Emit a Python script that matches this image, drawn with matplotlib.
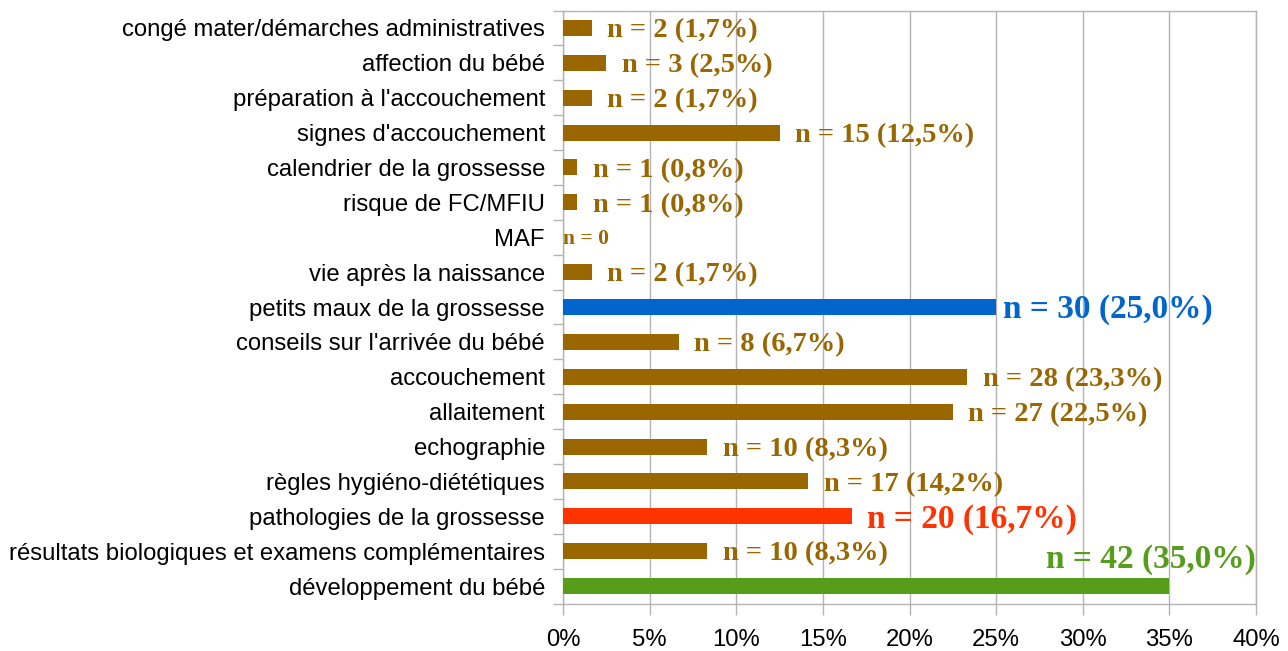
import matplotlib
matplotlib.use("Agg")
import matplotlib.pyplot as plt
from matplotlib.ticker import FixedLocator, PercentFormatter

categories = [
    "congé mater/démarches administratives",
    "affection du bébé",
    "préparation à l'accouchement",
    "signes d'accouchement",
    "calendrier de la grossesse",
    "risque de FC/MFIU",
    "MAF",
    "vie après la naissance",
    "petits maux de la grossesse",
    "conseils sur l'arrivée du bébé",
    "accouchement",
    "allaitement",
    "echographie",
    "règles hygiéno-diététiques",
    "pathologies de la grossesse",
    "résultats biologiques et examens complémentaires",
    "développement du bébé",
]
counts = [2, 3, 2, 15, 1, 1, 0, 2, 30, 8, 28, 27, 10, 17, 20, 10, 42]
percents = [1.7, 2.5, 1.7, 12.5, 0.8, 0.8, 0.0, 1.7, 25.0, 6.7, 23.3, 22.5, 8.3, 14.2, 16.7, 8.3, 35.0]
total = 120
xticks = [0, 5, 10, 15, 20, 25, 30, 35, 40]

BROWN = "#996600"
special_colors = {"petits maux de la grossesse": "#0066CC",
                  "pathologies de la grossesse": "#FF3300",
                  "développement du bébé": "#579D1C"}

fig = plt.figure(figsize=(12.88, 6.51), dpi=100)
ax = fig.add_axes([563/1288, 1 - 603.5/651, (1256-563)/1288, (603.5-10.5)/651])

n = len(categories)
ypos = list(range(n))
values = [c / total * 100 for c in counts]
colors = [special_colors.get(c, BROWN) for c in categories]
ax.barh(ypos, values, height=0.46, color=colors, zorder=3)

ax.set_xlim(0, 40)
ax.set_ylim(n - 0.5, -0.5)
ax.xaxis.set_major_locator(FixedLocator(xticks))
ax.xaxis.set_major_formatter(PercentFormatter(decimals=0))
ax.set_yticks(ypos)
ax.set_yticklabels(categories)
ax.yaxis.set_minor_locator(FixedLocator([i - 0.5 for i in range(n + 1)]))
ax.tick_params(axis="y", which="major", length=0, pad=13, labelsize=17.2, labelcolor="black")
ax.tick_params(axis="y", which="minor", length=7, color="#b3b3b3", width=1)
ax.tick_params(axis="x", which="major", length=8, color="#b3b3b3", width=1, labelsize=17.2, pad=10)
for lab in ax.get_yticklabels() + ax.get_xticklabels():
    lab.set_family(["Liberation Sans", "DejaVu Sans"])
ax.grid(axis="x", color="#b3b3b3", linewidth=1, zorder=0)
for s in ax.spines.values():
    s.set_color("#b3b3b3")
    s.set_linewidth(1)

for i, (cat, cnt, pct, v) in enumerate(zip(categories, counts, percents, values)):
    col = special_colors.get(cat, BROWN)
    if cnt == 0:
        txt = "n = 0"
        ax.annotate(txt, (v, i), xytext=(0, -1), textcoords="offset points",
                    ha="left", va="center", fontsize=15.5, fontweight="bold",
                    color=col, family="Liberation Serif", zorder=4)
        continue
    txt = f"n = {cnt} ({pct:.1f}%)".replace(".", ",")
    if cat in special_colors:
        size = 24
    else:
        size = 20.5
    if cat == "développement du bébé":
        ax.annotate(txt, (40, i), xytext=(0, 19), textcoords="offset points",
                    ha="right", va="center", fontsize=size, fontweight="bold",
                    color=col, family="Liberation Serif", zorder=4, annotation_clip=False)
    else:
        dx = 5 if cat == "petits maux de la grossesse" else 11
        ax.annotate(txt, (v, i), xytext=(dx, -2), textcoords="offset points",
                    ha="left", va="center", fontsize=size, fontweight="bold",
                    color=col, family="Liberation Serif", zorder=4)

fig.savefig("out.png", dpi=100)
